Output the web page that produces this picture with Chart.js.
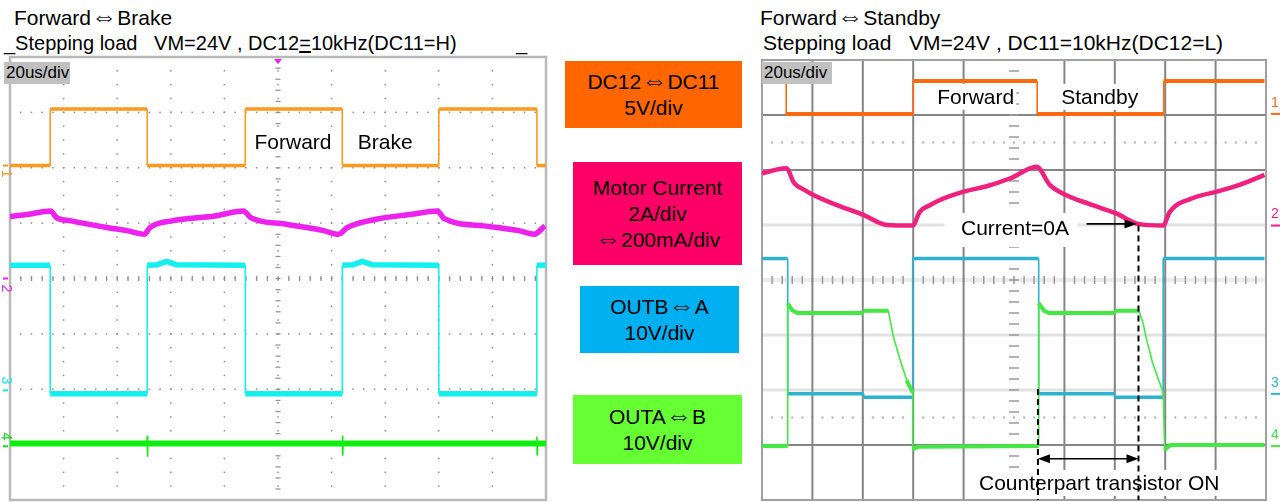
<!doctype html>
<html lang="en">
<head>
<meta charset="utf-8">
<title>Forward⇔Brake / Forward⇔Standby</title>
<script src="https://cdn.jsdelivr.net/npm/chart.js@4"></script>
<style>
  body { margin: 0; width: 1282px; height: 502px; position: relative; overflow: hidden; background: #fff;
         font-family: "Liberation Sans", Arial, "DejaVu Sans", sans-serif; color: #000; }
  .t { position: absolute; font-size: 20px; line-height: 22px; white-space: pre; }
  .box { position: absolute; display: flex; flex-direction: column; justify-content: center; align-items: center;
         font-size: 21px; line-height: 26px; white-space: nowrap; }
  .arr { font-family: "DejaVu Sans", sans-serif; font-weight: 200; font-size: 1.25em; line-height: 0; color: #222; }
  .div { position: absolute; background: #c0c0c0; font-size: 17px; line-height: 22px; padding-left: 2px; z-index: 2; }
  canvas { position: absolute; }
</style>
</head>
<body>
  <div class="t" style="left:14px;top:7px;font-size:21px">Forward<span class="arr">⇔</span>Brake</div>
  <div class="t" style="left:4px;top:32px">_Stepping load   VM=24V , DC12<span style="text-decoration:underline">=</span>10kHz(DC11=H)</div>
  <div class="t" style="left:516px;top:32px">_</div>
  <div class="t" style="left:760px;top:7px;font-size:21px">Forward<span class="arr">⇔</span>Standby</div>
  <div class="t" style="left:763px;top:32px;font-size:21px">Stepping load   VM=24V , DC11=10kHz(DC12=L)</div>

  <canvas id="brake" width="560" height="452" style="left:0;top:50px"></canvas>
  <canvas id="standby" width="532" height="452" style="left:750px;top:50px"></canvas>

  <div class="div" style="left:4px;top:62px;width:64px;height:22px">20us/div</div>
  <div class="div" style="left:762px;top:62px;width:68px;height:22px">20us/div</div>

  <div class="box" style="left:565px;top:61px;width:177px;height:67px;background:#ff6600">
    <div>DC12<span class="arr">⇔</span>DC11</div><div>5V/div</div>
  </div>
  <div class="box" style="left:573px;top:162px;width:169px;height:103px;background:#ff0066">
    <div>Motor Current</div><div>2A/div</div><div><span class="arr">⇔</span>200mA/div</div>
  </div>
  <div class="box" style="left:580px;top:286px;width:159px;height:67px;background:#00b0f0">
    <div>OUTB<span class="arr">⇔</span>A</div><div>10V/div</div>
  </div>
  <div class="box" style="left:573px;top:395px;width:169px;height:69px;background:#66ff33">
    <div>OUTA<span class="arr">⇔</span>B</div><div>10V/div</div>
  </div>

<script>
// time in us (20us/div), amplitude in screen divisions (-4..4)

// Forward <-> Brake
const brakeCtrlT = [0, 15, 15, 51.2, 51.2, 87.8, 87.8, 124, 124, 160, 160, 196.6, 196.6, 200]
const brakeCtrlV = [2.04, 2.04, 3.06, 3.06, 2.04, 2.04, 3.06, 3.06, 2.04, 2.04, 3.06, 3.06, 2.04, 2.04]

const brakeCurT = [0, 7, 15.1, 17.4, 22.8, 36.2, 44, 50.2, 52.2, 60.3, 76.4, 87.1, 89.8, 103.1, 116.6, 122.6, 125.9, 136.6, 150, 159.4, 162.1, 176.8, 190.2, 195.6, 199.6]
const brakeCurV = [1.12, 1.16, 1.22, 1.1, 1.04, 0.92, 0.86, 0.8, 0.92, 1.04, 1.13, 1.22, 1.1, 0.98, 0.87, 0.8, 0.92, 1.07, 1.16, 1.22, 1.08, 0.95, 0.86, 0.8, 0.95]

const brakeOutBT = [0, 15, 15, 51.2, 51.2, 55, 58.5, 62, 87.8, 87.8, 124, 124, 128, 131.5, 135, 160, 160, 196.6, 196.6, 200]
const brakeOutBV = [0.24, 0.24, -2.08, -2.08, 0.24, 0.25, 0.31, 0.25, 0.24, -2.08, -2.08, 0.24, 0.25, 0.31, 0.25, 0.24, -2.08, -2.08, 0.24, 0.24]

const brakeOutAT = [0, 51.1, 51.2, 51.3, 51.4, 124, 124.1, 124.2, 124.3, 196.5, 196.6, 196.7, 196.8, 200]
const brakeOutAV = [-2.98, -2.98, -2.84, -3.22, -2.98, -2.98, -2.84, -3.2, -2.98, -2.98, -2.86, -3.18, -2.98, -2.98]

// Forward <-> Standby
const standbyCtrlT = [0, 9.6, 9.6, 60, 60, 109.2, 109.2, 159.4, 159.4, 199.4]
const standbyCtrlV = [3.62, 3.62, 3.02, 3.02, 3.62, 3.62, 3.02, 3.02, 3.62, 3.62]

const standbyCurT = [0, 9.6, 12.8, 16.8, 20.2, 29.8, 40.4, 49.6, 59.8, 62.6, 66.6, 70.4, 80.4, 88.8, 98.6, 109, 114.2, 120.4, 130, 140.6, 149.2, 159.2, 161.8, 171, 180.8, 189.4, 199.4]
const standbyCurV = [1.94, 2.03, 1.76, 1.64, 1.55, 1.36, 1.18, 1.0, 0.99, 1.24, 1.36, 1.45, 1.61, 1.7, 1.85, 2.06, 1.73, 1.55, 1.38, 1.21, 1.02, 0.99, 1.24, 1.49, 1.61, 1.73, 1.91]

const standbyOutBT = [0, 10.2, 10.2, 40.4, 40.4, 59.8, 59.8, 109.8, 109.8, 140, 140, 159.2, 159.2, 199.4]
const standbyOutBV = [0.39, 0.39, -2.07, -2.07, -2.13, -2.13, 0.39, 0.39, -2.07, -2.07, -2.13, -2.13, 0.39, 0.39]

const standbyOutAT = [0, 10.2, 10.2, 12, 14, 40.4, 40.4, 50.2, 50.8, 52.2, 54.8, 57.4, 59.8, 59.8, 62, 109.8, 109.8, 112, 114, 140, 140, 149.6, 151.2, 152.4, 155, 157.8, 159.2, 159.8, 162, 199.4]
const standbyOutAV = [-3.02, -3.02, -0.43, -0.55, -0.6, -0.6, -0.56, -0.56, -0.73, -1.04, -1.45, -1.82, -2.05, -3.08, -3.03, -3.02, -0.42, -0.56, -0.6, -0.6, -0.56, -0.56, -0.78, -1.04, -1.51, -1.87, -2.05, -3.09, -3.0, -3.0]

const FONT = '21px "Liberation Sans", Arial, sans-serif'

function steep(c) {
  const dx = Math.abs(c.p1.x - c.p0.x)
  const dy = Math.abs(c.p1.y - c.p0.y)
  return dy > 2.5 * dx
}

function trace(t, v, color, width, smooth) {
  return {
    data: t.map((x, i) => ({ x, y: v[i] })),
    borderColor: color,
    segment: { borderWidth: (c) => (steep(c) ? 1.6 : width) },
    pointRadius: 0,
    tension: 0,
    cubicInterpolationMode: smooth ? 'monotone' : 'default',
  }
}

function note(ctx, cx, cy, text, pad) {
  ctx.font = FONT
  const w = ctx.measureText(text).width
  ctx.fillStyle = '#fff'
  ctx.fillRect(cx - w / 2 - pad, cy - 13, w + 2 * pad, 26)
  ctx.fillStyle = '#000'
  ctx.textAlign = 'center'
  ctx.textBaseline = 'middle'
  ctx.fillText(text, cx, cy + 1)
}

function head(ctx, x, y, dir) {
  ctx.beginPath()
  ctx.moveTo(x, y)
  ctx.lineTo(x - dir * 12, y - 4.5)
  ctx.lineTo(x - dir * 12, y + 4.5)
  ctx.closePath()
  ctx.fill()
}

function marker(ctx, x, y, text, color, rotate) {
  ctx.save()
  ctx.fillStyle = color
  ctx.font = '14px "Liberation Sans", Arial, sans-serif'
  ctx.textAlign = 'center'
  ctx.textBaseline = 'middle'
  ctx.translate(x, y)
  if (rotate) ctx.rotate(Math.PI / 2)
  ctx.fillText(text, 0, 0)
  ctx.restore()
}

function scope(id, datasets, padding, plugins) {
  return new Chart(document.getElementById(id), {
    type: 'line',
    data: { datasets },
    options: {
      responsive: false,
      animation: false,
      devicePixelRatio: 1,
      events: [],
      layout: { padding },
      scales: {
        x: { type: 'linear', min: 0, max: 200, display: false },
        y: { type: 'linear', min: -4, max: 4, display: false },
      },
      plugins: { legend: { display: false }, tooltip: { enabled: false } },
    },
    plugins,
  })
}

const dottedGrid = {
  id: 'dottedGrid',
  beforeDatasetsDraw(chart) {
    const { ctx, chartArea: a, scales: { x, y } } = chart
    ctx.save()
    ctx.fillStyle = '#8f8f8f'
    for (let i = 1; i < 10; i++) {
      const gx = x.getPixelForValue(i * 20)
      for (let k = 1; k < 32; k++) ctx.fillRect(gx - 0.75, y.getPixelForValue(-4 + k * 0.25) - 0.75, 1.5, 1.5)
    }
    for (let j = 1; j < 8; j++) {
      const gy = y.getPixelForValue(j - 4)
      for (let k = 1; k < 50; k++) ctx.fillRect(x.getPixelForValue(k * 4) - 0.75, gy - 0.75, 1.5, 1.5)
    }
    const cx = x.getPixelForValue(100)
    const cy = y.getPixelForValue(0)
    for (let k = 1; k < 40; k++) ctx.fillRect(cx - 2.5, y.getPixelForValue(-4 + k * 0.2) - 0.5, 5, 1.2)
    for (let k = 1; k < 50; k++) ctx.fillRect(x.getPixelForValue(k * 4) - 0.5, cy - 2.5, 1.2, 5)
    ctx.strokeStyle = '#b8b8b8'
    ctx.lineWidth = 2.5
    ctx.strokeRect(a.left, a.top, a.width, a.height)
    ctx.restore()
  },
  afterDatasetsDraw(chart) {
    const { ctx, chartArea: a, scales: { x, y } } = chart
    ctx.save()
    note(ctx, x.getPixelForValue(105.6), y.getPixelForValue(2.46), 'Forward', 3)
    note(ctx, x.getPixelForValue(140), y.getPixelForValue(2.46), 'Brake', 3)
    // trigger mark
    const tx = x.getPixelForValue(100)
    ctx.fillStyle = '#ee22ee'
    ctx.beginPath()
    ctx.moveTo(tx - 4, a.top + 2)
    ctx.lineTo(tx + 4, a.top + 2)
    ctx.lineTo(tx, a.top + 7)
    ctx.fill()
    // channel ground marks
    const mx = a.left - 4
    const marks = [[2.04, 8, '1', '#fb9a1e'], [0, 10, '2', '#ee22ee'], [-2.02, -10, '3', '#14e8f0'], [-3.03, -10, '4', '#10e010']]
    for (const [g, off, d, color] of marks) {
      const gy = y.getPixelForValue(g)
      ctx.fillStyle = color
      ctx.fillRect(mx - 3, gy - 1, 5, 2)
      marker(ctx, mx, gy + off, d, color, true)
    }
    ctx.restore()
  },
}

const solidGrid = {
  id: 'solidGrid',
  beforeDatasetsDraw(chart) {
    const { ctx, chartArea: a, scales: { x, y } } = chart
    const hline = (v, color, w) => {
      ctx.strokeStyle = color
      ctx.lineWidth = w
      ctx.beginPath()
      ctx.moveTo(a.left, y.getPixelForValue(v))
      ctx.lineTo(a.right, y.getPixelForValue(v))
      ctx.stroke()
    }
    ctx.save()
    for (const v of [1, -1, -2]) hline(v, '#e2e2e2', 3)
    hline(0, '#ececec', 4)
    ctx.fillStyle = '#b0b0b0'
    for (const v of [2.5, -2.5]) {
      const gy = y.getPixelForValue(v)
      for (let k = 1; k < 50; k++) ctx.fillRect(x.getPixelForValue(k * 4) - 1, gy - 1, 2, 2)
    }
    ctx.fillStyle = '#999'
    const cy = y.getPixelForValue(0)
    for (let k = 1; k < 50; k++) ctx.fillRect(x.getPixelForValue(k * 4) - 0.75, cy - 4, 1.5, 8)
    for (const v of [3, 2, -3]) hline(v, '#858585', 2)
    ctx.strokeStyle = '#858585'
    ctx.lineWidth = 2
    for (let i = 1; i < 10; i++) {
      if (i === 5) continue
      const gx = x.getPixelForValue(i * 20)
      ctx.beginPath()
      ctx.moveTo(gx, a.top)
      ctx.lineTo(gx, a.bottom)
      ctx.stroke()
    }
    const cx = x.getPixelForValue(100)
    ctx.fillStyle = '#9a9a9a'
    for (let k = 1; k < 40; k++) ctx.fillRect(cx - 5, y.getPixelForValue(-4 + k * 0.2) - 0.75, 10, 1.5)
    ctx.strokeStyle = '#a0a0a0'
    ctx.strokeRect(a.left, a.top, a.width, a.height)
    ctx.restore()
  },
  afterDatasetsDraw(chart) {
    const { ctx, chartArea: a, scales: { x, y } } = chart
    const px = (t) => x.getPixelForValue(t)
    const py = (v) => y.getPixelForValue(v)
    ctx.save()
    note(ctx, px(84.8), py(3.33), 'Forward', 2)
    note(ctx, px(134), py(3.33), 'Standby', 2)

    ctx.fillStyle = '#fff'
    ctx.fillRect(px(72.4), py(1.22), px(125.2) - px(72.4), py(0.6) - py(1.22))
    ctx.fillStyle = '#000'
    ctx.font = FONT
    ctx.textAlign = 'center'
    ctx.textBaseline = 'middle'
    ctx.fillText('Current=0A', px(100.4), py(0.93))

    ctx.strokeStyle = '#000'
    ctx.lineWidth = 1.6
    ctx.beginPath()
    ctx.moveTo(px(128.8), py(1.02))
    ctx.lineTo(px(148.6) - 8, py(1.02))
    ctx.stroke()
    head(ctx, px(148.6), py(1.02), 1)

    note(ctx, px(133.8), py(-3.69), 'Counterpart transistor ON', 2)

    ctx.setLineDash([6, 4])
    ctx.lineWidth = 2
    ctx.beginPath()
    ctx.moveTo(px(109.5), py(-1.98))
    ctx.lineTo(px(109.5), a.bottom)
    ctx.moveTo(px(149.4), py(0.99))
    ctx.lineTo(px(149.4), a.bottom)
    ctx.stroke()
    ctx.setLineDash([])

    ctx.lineWidth = 1.6
    ctx.beginPath()
    ctx.moveTo(px(109.5) + 6, py(-3.25))
    ctx.lineTo(px(149.4) - 6, py(-3.25))
    ctx.stroke()
    head(ctx, px(109.5), py(-3.25), -1)
    head(ctx, px(149.4), py(-3.25), 1)

    const mx = a.right + 9
    const marks = [[3.02, '1', '#ff6a10'], [0.99, '2', '#f0207f'], [-2.07, '3', '#2db3cf'], [-3.02, '4', '#44e844']]
    for (const [g, d, color] of marks) {
      const gy = py(g)
      ctx.fillStyle = color
      ctx.fillRect(mx - 4, gy - 1, 9, 2)
      marker(ctx, mx, gy - 11, d, color, false)
    }
    ctx.restore()
  },
}

scope('brake', [
  trace(brakeCtrlT, brakeCtrlV, '#fb9a1e', 3.5),
  trace(brakeCurT, brakeCurV, '#ee22ee', 5.5, true),
  trace(brakeOutBT, brakeOutBV, '#14f0f0', 5.5),
  trace(brakeOutAT, brakeOutAV, '#10ee10', 6),
], { left: 10, right: 14, top: 7, bottom: 2 }, [dottedGrid])

scope('standby', [
  trace(standbyCtrlT, standbyCtrlV, '#ff6a10', 4),
  trace(standbyCurT, standbyCurV, '#f0207f', 4.5, true),
  trace(standbyOutAT, standbyOutAV, '#44e844', 4),
  trace(standbyOutBT, standbyOutBV, '#2db3cf', 3.5),
], { left: 12, right: 16, top: 10, bottom: 2 }, [solidGrid])
</script>
</body>
</html>
